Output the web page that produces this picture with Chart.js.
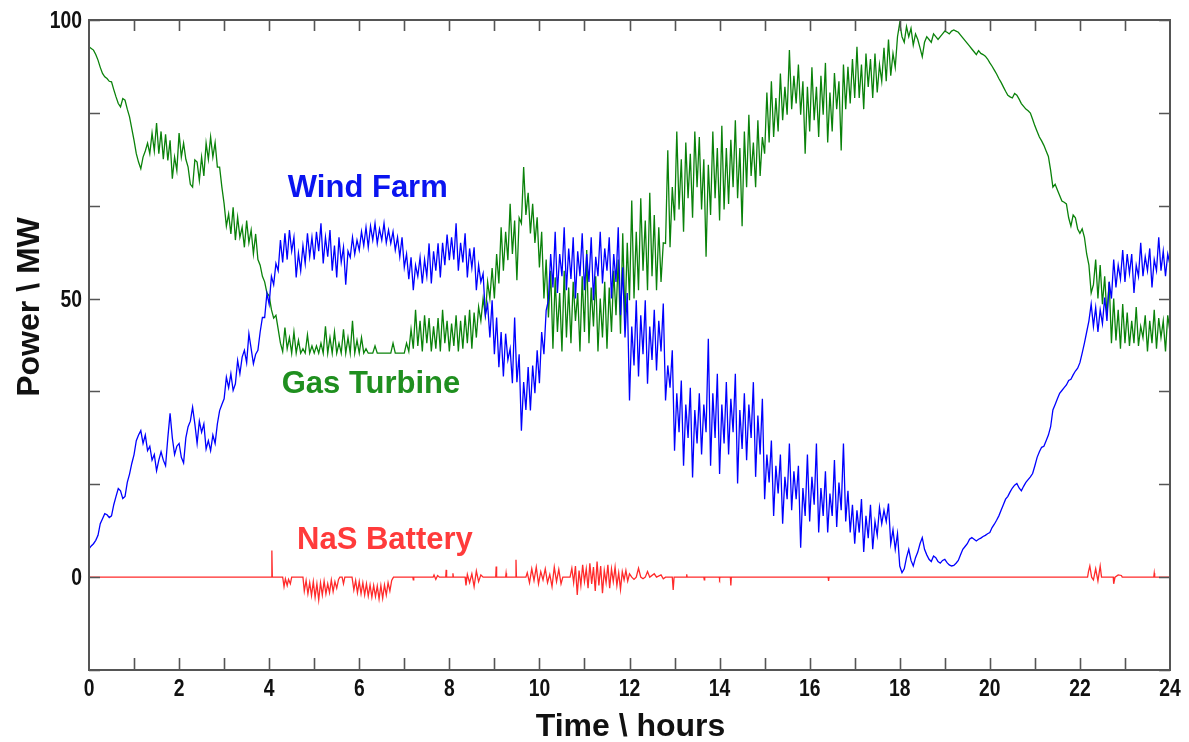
<!DOCTYPE html>
<html>
<head>
<meta charset="utf-8">
<title>Power \ MW</title>
<script src="https://cdn.jsdelivr.net/npm/chart.js@4.4.1/dist/chart.umd.min.js"></script>
<style>
    html, body { margin: 0; padding: 0; background: #fff; }
    canvas { display: block; }
</style>
</head>
<body>
<canvas id="chartPower" width="1189" height="742"></canvas>
<script>
/* ============================================================
   Data (MW over 24 hours)
   ============================================================ */

// Wind farm and gas turbine: one row per hour, one value every 0.05 h
const STEP_H = 0.05;

const windFarm = [
    [5.1, 5.6, 6.0, 6.6, 7.5, 9.6, 10.5, 11.4, 11.2, 10.7, 11.0, 13.0, 14.5, 15.9, 15.5, 14.1, 14.5, 17.0, 18.5, 20.4],
    [22.0, 24.5, 25.5, 26.3, 24.0, 25.5, 22.7, 23.5, 21.0, 22.0, 19.1, 21.0, 22.5, 21.0, 20.0, 25.0, 29.4, 25.0, 22.0, 23.5],
    [24.0, 21.5, 20.5, 25.0, 27.0, 28.0, 30.5, 27.5, 24.0, 28.0, 26.0, 27.5, 23.0, 24.5, 22.7, 25.5, 24.0, 27.5, 29.9, 31.0],
    [32.0, 35.9, 34.0, 36.5, 33.5, 34.7, 38.9, 36.5, 39.5, 40.7, 38.5, 43.7, 41.0, 38.3, 40.0, 40.7, 44.0, 46.6, 46.6, 50.9],
    [49.0, 54.0, 52.5, 56.3, 55.0, 60.5, 56.5, 61.7, 57.0, 62.3, 58.5, 61.0, 53.8, 58.1, 55.0, 59.5, 56.3, 61.7, 57.5, 61.0],
    [57.0, 62.0, 58.5, 63.5, 56.3, 61.0, 57.5, 62.3, 55.0, 59.5, 53.8, 61.0, 56.5, 59.2, 52.5, 58.5, 57.4, 61.0, 58.0, 60.5],
    [58.7, 62.0, 59.5, 62.8, 59.2, 63.0, 60.5, 63.5, 59.9, 62.5, 60.5, 63.5, 60.0, 62.3, 59.9, 62.0, 58.7, 61.0, 57.5, 61.0],
    [55.6, 58.0, 53.5, 57.4, 51.5, 56.0, 54.0, 57.4, 52.7, 57.0, 54.0, 59.9, 52.7, 58.5, 55.0, 59.9, 53.8, 60.0, 56.0, 61.5],
    [56.9, 61.0, 57.0, 63.5, 55.0, 60.0, 56.5, 61.7, 53.8, 59.0, 55.5, 59.2, 51.5, 56.0, 53.0, 54.5, 47.0, 49.0, 43.0, 49.7],
    [40.0, 46.6, 37.7, 44.0, 36.0, 43.7, 39.0, 41.0, 34.8, 46.6, 35.0, 40.0, 26.3, 35.0, 30.0, 37.7, 29.9, 38.0, 33.0, 40.7],
    [34.8, 44.0, 40.0, 47.9, 49.7, 58.0, 52.0, 62.0, 51.0, 58.0, 54.0, 62.8, 51.5, 59.0, 53.5, 61.0, 50.0, 58.5, 54.0, 61.7],
    [51.5, 58.0, 53.0, 61.0, 49.7, 57.5, 54.0, 62.0, 52.7, 59.0, 55.0, 61.0, 50.0, 58.0, 53.0, 62.8, 47.0, 55.6, 43.0, 51.0],
    [31.7, 45.0, 38.0, 49.7, 36.0, 47.0, 40.0, 49.7, 34.7, 45.0, 39.0, 48.0, 37.1, 46.0, 40.5, 49.1, 31.7, 38.0, 34.0, 40.7],
    [22.7, 33.0, 26.0, 35.3, 20.0, 31.0, 25.0, 34.0, 17.9, 30.0, 24.0, 33.0, 22.0, 31.0, 26.0, 42.8, 20.0, 33.0, 25.0, 36.5],
    [18.5, 31.0, 24.0, 35.0, 22.0, 32.0, 26.0, 36.5, 16.8, 30.0, 23.0, 33.0, 21.0, 31.0, 25.0, 35.0, 18.0, 29.0, 22.0, 32.0],
    [14.0, 22.0, 17.0, 24.5, 11.0, 20.0, 15.0, 22.0, 9.6, 18.0, 14.0, 24.0, 12.0, 19.0, 14.0, 20.0, 5.3, 16.0, 11.0, 22.0],
    [10.0, 18.0, 13.0, 24.0, 8.0, 16.0, 11.0, 19.0, 8.0, 15.0, 11.0, 21.0, 9.0, 17.0, 12.0, 24.0, 10.0, 15.5, 8.0, 13.0],
    [6.0, 12.0, 8.0, 14.0, 4.5, 11.0, 7.0, 13.0, 5.0, 10.0, 7.5, 12.5, 9.6, 12.0, 10.0, 13.2, 6.0, 8.5, 5.0, 7.8],
    [2.0, 0.8, 1.5, 3.5, 5.0, 3.0, 2.0, 3.5, 4.5, 6.0, 7.1, 5.0, 4.0, 3.2, 2.8, 3.8, 3.5, 2.8, 2.5, 3.0],
    [3.2, 2.6, 2.2, 2.0, 2.1, 2.5, 3.0, 4.0, 5.0, 5.5, 6.0, 6.8, 7.1, 6.8, 6.5, 6.8, 7.0, 7.3, 7.5, 7.8],
    [8.0, 8.9, 9.5, 10.2, 11.0, 12.0, 13.0, 14.0, 14.5, 15.3, 16.0, 16.5, 16.8, 16.0, 15.5, 16.3, 17.0, 17.5, 18.0, 18.6],
    [20.0, 21.5, 22.5, 23.3, 23.5, 24.5, 25.5, 27.0, 30.0, 31.0, 32.0, 33.0, 33.5, 34.0, 34.5, 35.3, 35.5, 36.3, 37.0, 37.5],
    [38.5, 40.2, 42.0, 44.0, 46.0, 49.0, 45.0, 48.4, 44.0, 48.0, 45.5, 50.2, 46.0, 53.0, 50.0, 57.0, 52.0, 56.0, 53.5, 58.7],
    [53.0, 58.0, 54.5, 58.0, 51.0, 56.0, 54.0, 60.0, 54.0, 57.5, 55.0, 59.0, 52.0, 57.0, 55.0, 61.0, 55.0, 58.5, 54.0, 58.0],
    [56.0]
];

const gasTurbine = [
    [95.2, 94.9, 94.6, 93.8, 92.8, 91.5, 90.4, 89.8, 89.5, 89.0, 88.9, 87.5, 86.2, 85.0, 84.4, 85.9, 85.6, 84.0, 82.6, 80.5],
    [78.4, 76.0, 74.5, 73.3, 75.4, 76.5, 77.9, 76.0, 79.7, 76.5, 81.5, 76.0, 80.0, 75.0, 79.5, 74.8, 78.4, 71.5, 75.4, 73.0],
    [79.7, 75.4, 77.9, 75.0, 73.6, 70.5, 70.0, 74.9, 74.5, 71.2, 75.4, 72.0, 77.9, 75.0, 79.0, 75.4, 78.0, 73.6, 73.6, 70.0],
    [67.0, 63.0, 65.2, 61.6, 66.4, 60.5, 64.6, 61.0, 62.8, 59.2, 64.0, 60.0, 62.3, 58.0, 61.6, 57.0, 56.0, 54.0, 53.0, 51.0],
    [50.5, 48.0, 46.5, 47.0, 44.5, 42.0, 40.5, 44.8, 41.0, 43.0, 40.2, 44.0, 40.2, 42.5, 40.2, 41.0, 40.2, 43.5, 40.2, 41.5],
    [40.2, 41.5, 40.2, 42.0, 40.2, 45.0, 40.2, 43.0, 40.2, 44.0, 40.2, 42.0, 40.2, 44.5, 40.2, 43.0, 40.2, 46.0, 40.2, 42.5],
    [40.2, 43.0, 40.2, 41.0, 40.2, 40.2, 40.2, 41.5, 40.2, 40.2, 40.2, 40.2, 40.2, 40.2, 40.2, 42.0, 40.2, 40.2, 40.2, 40.2],
    [40.2, 42.0, 40.5, 44.5, 41.0, 48.0, 41.5, 46.0, 40.5, 47.0, 42.0, 46.5, 40.5, 45.0, 41.0, 46.5, 40.5, 48.0, 42.0, 46.0],
    [40.5, 45.5, 41.5, 47.0, 40.5, 46.0, 41.0, 47.0, 42.0, 48.0, 41.0, 47.5, 43.0, 48.5, 46.0, 50.0, 47.0, 53.0, 50.0, 55.5],
    [50.0, 58.0, 52.7, 62.8, 55.0, 62.0, 56.9, 67.0, 58.0, 64.0, 53.3, 64.5, 63.5, 73.6, 65.0, 69.0, 61.7, 67.0, 60.0, 64.6],
    [55.6, 62.0, 50.0, 57.0, 46.6, 55.0, 41.0, 53.8, 44.0, 51.0, 40.5, 55.0, 43.0, 52.0, 42.0, 53.0, 46.0, 51.0, 40.5, 54.0],
    [44.0, 58.7, 42.0, 52.0, 45.0, 54.0, 40.5, 50.0, 43.0, 53.0, 41.0, 52.0, 44.0, 55.0, 47.0, 57.0, 43.7, 61.7, 46.0, 60.0],
    [49.7, 67.6, 50.0, 62.0, 51.5, 68.0, 55.0, 64.0, 51.5, 69.0, 54.0, 65.0, 51.5, 62.8, 53.0, 60.0, 59.9, 76.6, 59.2, 70.0],
    [64.0, 80.0, 66.0, 75.0, 62.0, 78.0, 68.0, 76.0, 64.5, 80.0, 70.0, 79.0, 66.0, 75.0, 57.5, 74.0, 65.0, 80.0, 68.0, 77.0],
    [64.0, 81.0, 66.0, 77.0, 67.0, 78.5, 70.0, 82.0, 68.0, 77.0, 63.0, 80.0, 70.0, 83.0, 72.0, 78.0, 70.0, 82.0, 72.0, 79.0],
    [76.0, 87.0, 78.0, 89.0, 79.0, 86.0, 80.0, 90.4, 82.0, 88.0, 83.0, 94.6, 84.0, 90.0, 85.0, 92.0, 83.0, 89.0, 76.0, 88.0],
    [80.0, 91.5, 82.0, 88.0, 79.0, 90.0, 83.0, 92.3, 78.0, 87.0, 80.0, 90.5, 84.0, 89.0, 76.6, 92.0, 84.0, 91.6, 85.0, 93.0],
    [86.0, 95.2, 86.0, 92.0, 84.0, 94.0, 88.0, 93.0, 86.0, 94.0, 87.0, 92.0, 89.0, 95.0, 89.0, 96.5, 90.0, 94.0, 91.5, 97.0],
    [99.5, 97.0, 96.0, 98.8, 97.0, 98.5, 95.5, 97.5, 96.5, 95.0, 93.4, 96.0, 97.0, 96.5, 96.0, 97.5, 97.0, 96.5, 97.0, 97.5],
    [98.0, 97.8, 97.5, 98.0, 98.2, 98.0, 97.8, 97.3, 96.8, 96.3, 95.8, 95.3, 94.8, 94.3, 93.8, 94.5, 94.0, 93.8, 93.5, 93.0],
    [92.3, 91.7, 91.0, 90.3, 89.5, 88.8, 88.0, 87.2, 86.5, 86.2, 86.0, 86.8, 86.5, 85.8, 85.0, 84.5, 84.0, 83.7, 83.3, 82.2],
    [81.0, 80.0, 79.0, 78.3, 77.5, 76.5, 75.5, 73.0, 70.0, 70.5, 69.5, 68.5, 67.5, 67.3, 67.0, 64.5, 63.0, 65.0, 64.5, 62.5],
    [61.7, 62.5, 61.0, 58.0, 56.0, 51.0, 52.5, 57.0, 50.0, 56.0, 49.0, 54.0, 47.0, 53.0, 42.0, 50.0, 42.5, 48.0, 41.0, 49.0],
    [42.0, 47.5, 41.5, 46.0, 42.0, 48.5, 41.5, 45.0, 43.0, 47.0, 40.5, 46.0, 42.0, 48.0, 41.0, 46.5, 43.0, 46.0, 40.5, 47.0],
    [44.0]
];

// NaS battery: zero most of the day, spikes at these hours
const battHours = [
    0, 4.05, 4.06, 4.07,
    4.30, 4.33, 4.36, 4.40, 4.43, 4.47, 4.50,
    4.75, 4.78, 4.82, 4.86, 4.90, 4.94, 4.98, 5.02, 5.06, 5.10, 5.14,
    5.18, 5.22, 5.26, 5.30, 5.34, 5.38, 5.42, 5.46, 5.50, 5.54, 5.57,
    5.62, 5.65, 5.68,
    5.84, 5.88, 5.92, 5.96, 6.00, 6.04, 6.08, 6.12, 6.16, 6.20, 6.24, 6.28,
    6.32, 6.36, 6.40, 6.44, 6.48, 6.52, 6.56, 6.60, 6.64, 6.68, 6.72, 6.76,
    7.19, 7.20, 7.21,
    7.64, 7.66, 7.70, 7.74, 7.78,
    7.92, 7.93, 7.94,
    8.07, 8.08, 8.09,
    8.35, 8.37, 8.40, 8.45, 8.50, 8.55, 8.60, 8.65, 8.70, 8.75,
    9.03, 9.04, 9.05,
    9.25, 9.26, 9.27,
    9.47, 9.48, 9.49,
    9.70, 9.73, 9.78, 9.83, 9.88, 9.93, 9.98, 10.03, 10.08,
    10.13, 10.18, 10.23, 10.28, 10.33, 10.38, 10.43, 10.48, 10.52,
    10.68, 10.72, 10.76, 10.80, 10.84, 10.88, 10.92, 10.96, 11.00, 11.04,
    11.08, 11.12, 11.16, 11.20, 11.24, 11.28, 11.32, 11.36, 11.40, 11.44,
    11.48, 11.52, 11.56, 11.60, 11.64, 11.68, 11.72, 11.76, 11.80, 11.84,
    11.88, 11.92, 11.96, 12.00,
    12.05, 12.10, 12.15, 12.20, 12.25, 12.30, 12.35, 12.40, 12.45, 12.55,
    12.60, 12.70, 12.75, 12.80,
    12.95, 12.97, 12.99,
    13.26, 13.27, 13.28,
    13.65, 13.66, 13.67,
    13.99, 14.00, 14.01,
    14.24, 14.25, 14.26,
    16.41, 16.42, 16.43,
    22.17, 22.19, 22.22, 22.26, 22.30, 22.35, 22.40, 22.45, 22.48,
    22.74, 22.75, 22.78, 22.85, 22.92, 22.94,
    23.64, 23.65, 23.66, 24
];

const battMW = [
    0, 0, 4.8, 0,
    0, -1.7, -0.3, -1.5, -0.4, -1.2, 0,
    0, -2.5, -0.6, -3.0, -1.0, -3.3, -0.8, -3.6, -1.2, -4.1, -1.0,
    -3.2, -0.7, -3.0, -1.2, -2.8, -0.5, -2.6, -0.8, -2.0, -0.4, 0,
    0, -1.2, 0,
    0, -2.3, -0.6, -2.8, -0.8, -3.0, -1.0, -3.2, -1.2, -3.4, -1.4, -3.6,
    -1.5, -3.5, -1.6, -3.9, -1.5, -3.8, -1.4, -3.2, -1.0, -2.5, -0.6, 0,
    0, -0.5, 0,
    0, 0.4, -0.4, 0.3, 0,
    0, 1.3, 0,
    0, 0.7, 0,
    0, -1.5, 0.5, -1.0, 0.6, -1.7, 1.1, -0.8, 0.4, 0,
    0, 1.9, 0,
    0, 0.7, 0,
    0, 3.1, 0,
    0, 0.8, -1.0, 1.5, -0.6, 1.8, -1.2, 1.0, -0.5,
    1.5, -1.0, 0.5, -1.7, 1.8, -0.8, 1.4, -1.2, 0,
    0, 1.6, -1.0, 2.0, -3.2, 1.2, -1.5, 2.2, -0.8, 1.5,
    -2.0, 2.5, -1.2, 1.8, -2.5, 2.8, -1.5, 2.0, -2.9, 1.2,
    -1.0, 2.2, -2.0, 1.5, -0.8, 1.8, -1.5, 0.8, -2.2, 1.0,
    -0.5, 1.2, -0.7, 0.6,
    0, -0.4, 0, 1.6, 0, -0.3, 0, 1.0, 0, 0.6,
    0, 0.4, -0.3, 0,
    0, -2.3, 0,
    0, 0.5, 0,
    0, -0.5, 0,
    0, -0.3, 0,
    0, -1.5, 0,
    0, -0.7, 0,
    0, 1.0, 2.0, 0, -0.5, 1.5, -0.7, 2.0, 0,
    0, -1.2, 0, 0.4, 0.3, 0,
    0, 0.7, 0, 0
];

// Axis ticks
const HOURS_MAX = 24;
const Y_MIN = -100 / 6;
const Y_MAX = 100;
const yTickValues = [-100 / 6, 0, 100 / 6, 200 / 6, 50, 400 / 6, 500 / 6, 100];
const yTickLabels = [0, 50, 100];
const xTickLabels = [0, 2, 4, 6, 8, 10, 12, 14, 16, 18, 20, 22, 24];

/* ============================================================
   Helpers
   ============================================================ */
function hourly(rows) {
    const out = [];
    rows.forEach((row, h) => {
        row.forEach((v, j) => out.push({ x: +(h + j * STEP_H).toFixed(2), y: v }));
    });
    return out;
}
function paired(hours, values) {
    const n = Math.min(hours.length, values.length);
    const out = [];
    for (let i = 0; i < n; i++) out.push({ x: hours[i], y: values[i] });
    return out;
}

const COLORS = {
    wind: "#0000ff",
    gas: "#0a820a",
    batt: "#ff2a2a",
    frame: "#555555",
    text: "#111111"
};

const seriesLabels = [
    { text: "Wind Farm", color: "#0a14f0", hour: 6.19, mw: 69.8 },
    { text: "Gas Turbine", color: "#1f8f1f", hour: 6.26, mw: 34.6 },
    { text: "NaS Battery", color: "#ff3b3b", hour: 6.57, mw: 6.6 }
];

const TICK_FONT = "bold 23px 'Liberation Sans', Arial, sans-serif";
const TICK_SQUEEZE = 0.84;   // narrow digits like the original
const TITLE_FONT = "bold 32px 'Liberation Sans', Arial, sans-serif";
const LABEL_FONT = "bold 31px 'Liberation Sans', Arial, sans-serif";

/* ============================================================
   Plugin: frame with inward ticks, tick labels, titles, series labels
   ============================================================ */
function squeezedText(ctx, text, px, py, align) {
    ctx.save();
    ctx.translate(px, py);
    ctx.scale(TICK_SQUEEZE, 1);
    ctx.textAlign = align;
    ctx.fillText(text, 0, 0);
    ctx.restore();
}

const framePlugin = {
    id: "frame",
    afterDatasetsDraw(chart) {
        const { ctx, chartArea: a, scales } = chart;
        const x = scales.x, y = scales.y;
        ctx.save();

        // box
        ctx.strokeStyle = COLORS.frame;
        ctx.lineWidth = 2;
        ctx.strokeRect(a.left, a.top, a.right - a.left, a.bottom - a.top);

        // inward ticks
        ctx.lineWidth = 1.6;
        ctx.beginPath();
        for (let h = 1; h < HOURS_MAX; h++) {
            const px = Math.round(x.getPixelForValue(h)) + 0.5;
            ctx.moveTo(px, a.bottom); ctx.lineTo(px, a.bottom - 12);
            ctx.moveTo(px, a.top); ctx.lineTo(px, a.top + 11);
        }
        yTickValues.forEach(v => {
            const py = Math.round(y.getPixelForValue(v)) + 0.5;
            ctx.moveTo(a.left, py); ctx.lineTo(a.left + 11, py);
            ctx.moveTo(a.right, py); ctx.lineTo(a.right - 11, py);
        });
        ctx.stroke();

        // tick labels
        ctx.fillStyle = COLORS.text;
        ctx.font = TICK_FONT;
        ctx.textBaseline = "middle";
        xTickLabels.forEach(h => squeezedText(ctx, String(h), x.getPixelForValue(h), a.bottom + 20, "center"));
        yTickLabels.forEach(v => squeezedText(ctx, String(v), a.left - 7, y.getPixelForValue(v) + 2, "right"));

        // series labels
        ctx.font = LABEL_FONT;
        ctx.textAlign = "center";
        seriesLabels.forEach(l => {
            ctx.fillStyle = l.color;
            ctx.fillText(l.text, x.getPixelForValue(l.hour), y.getPixelForValue(l.mw));
        });

        // axis titles
        ctx.fillStyle = COLORS.text;
        ctx.font = TITLE_FONT;
        ctx.fillText("Time \\ hours", (a.left + a.right) / 2 + 1, 727);
        ctx.translate(30, (a.top + a.bottom) / 2 - 38);
        ctx.rotate(-Math.PI / 2);
        ctx.fillText("Power \\ MW", 0, 0);

        ctx.restore();
    }
};

/* ============================================================
   Chart
   ============================================================ */
new Chart(document.getElementById("chartPower"), {
    type: "line",
    data: {
        datasets: [
            {
                label: "Wind Farm",
                data: hourly(windFarm),
                borderColor: COLORS.wind,
                borderWidth: 1.3
            },
            {
                label: "Gas Turbine",
                data: hourly(gasTurbine),
                borderColor: COLORS.gas,
                borderWidth: 1.3
            },
            {
                label: "NaS Battery",
                data: paired(battHours, battMW),
                borderColor: COLORS.batt,
                borderWidth: 1.3
            }
        ]
    },
    options: {
        responsive: false,
        animation: false,
        parsing: false,
        normalized: true,
        elements: {
            point: { radius: 0, hoverRadius: 0 },
            line: { tension: 0, fill: false }
        },
        layout: { padding: { top: 20, right: 19, bottom: 0, left: 0 } },
        plugins: {
            legend: { display: false },
            tooltip: { enabled: false },
            title: { display: false }
        },
        scales: {
            x: {
                type: "linear",
                min: 0,
                max: HOURS_MAX,
                grid: { display: false, drawTicks: false },
                border: { display: false },
                ticks: { display: false },
                afterFit: s => { s.height = 72; }
            },
            y: {
                type: "linear",
                min: Y_MIN,
                max: Y_MAX,
                grid: { display: false, drawTicks: false },
                border: { display: false },
                ticks: { display: false },
                afterFit: s => { s.width = 89; }
            }
        }
    },
    plugins: [framePlugin]
});
</script>
</body>
</html>
